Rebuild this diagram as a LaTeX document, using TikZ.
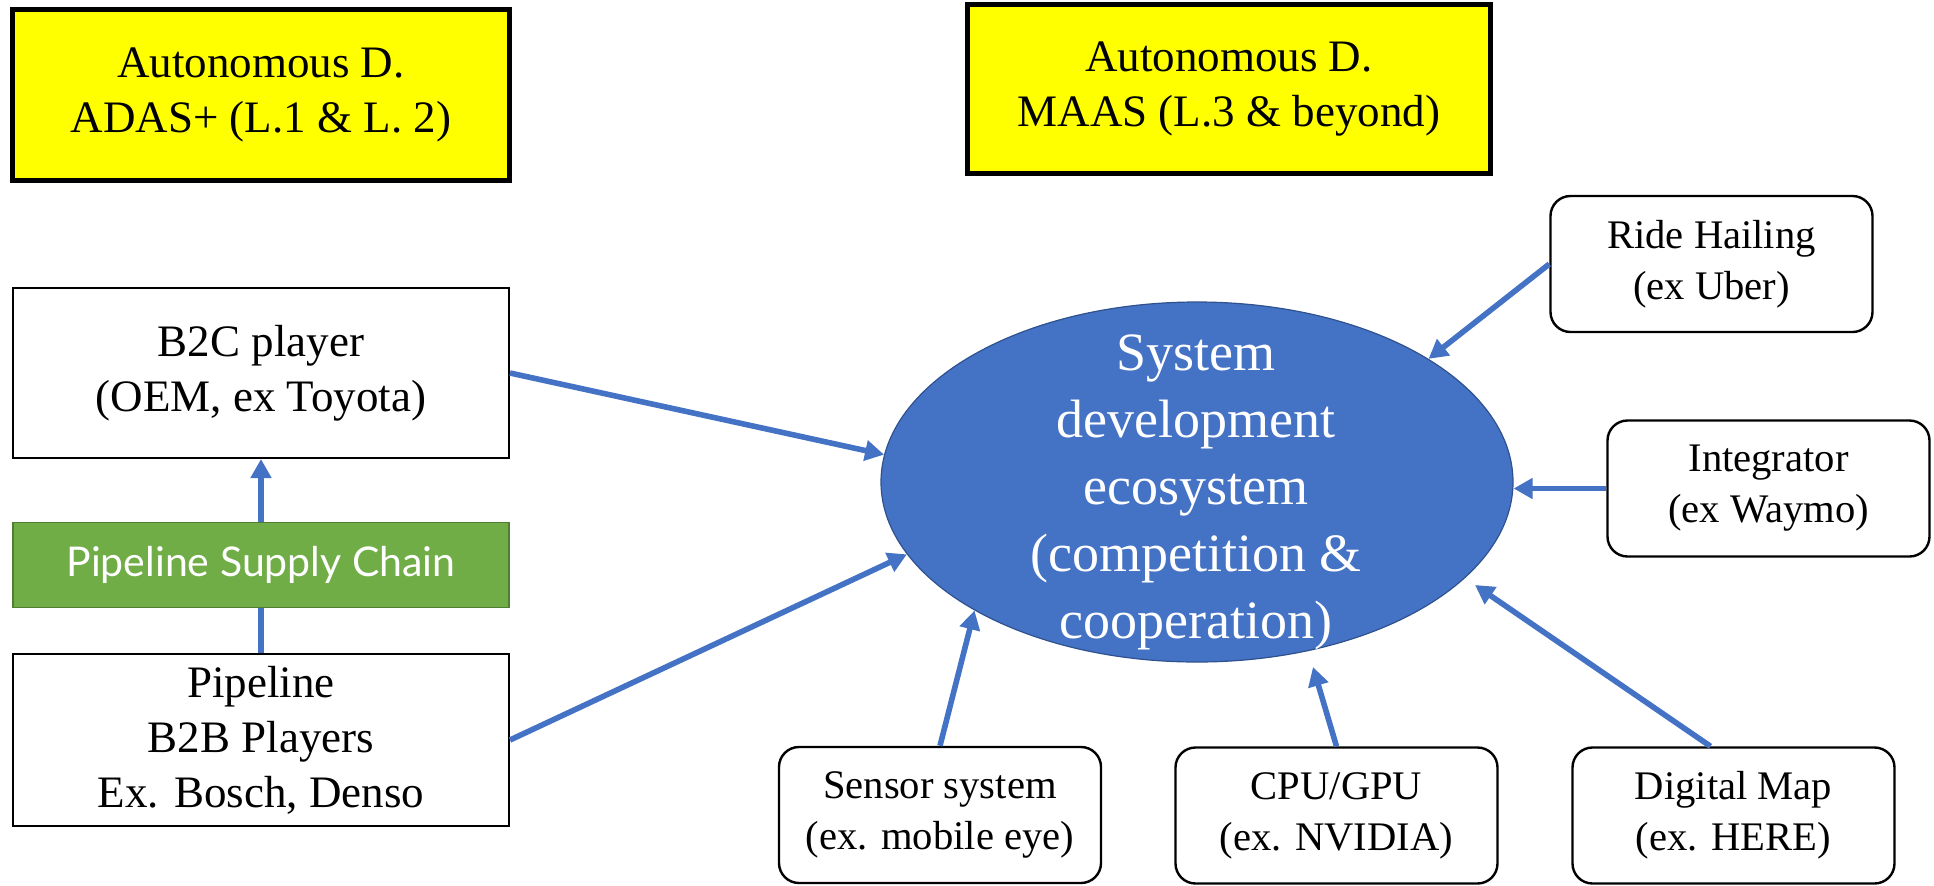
\documentclass[tikz,border=0pt]{standalone}
\usepackage{fontspec}
\setmainfont{Liberation Serif}
\newfontfamily\latofont{Lato}
\usepackage{tikz}
\usetikzlibrary{arrows.meta,shapes.geometric,positioning}
\definecolor{adyellow}{HTML}{FFFF00}
\definecolor{adblue}{HTML}{4472C4}
\definecolor{adblueline}{HTML}{2F528F}
\definecolor{adgreen}{HTML}{70AD47}
\definecolor{adgreenline}{HTML}{507E32}

\begin{document}
\begin{tikzpicture}[x=0.5pt,y=0.5pt,yscale=-1,xscale=1,
    headbox/.style={draw=black,line width=2.6pt,fill=adyellow,inner sep=0pt,align=center,
        font=\fontsize{22.5}{27.5}\selectfont},
    playerbox/.style={draw=black,line width=1pt,fill=white,minimum width=248pt,inner sep=0pt,align=center,
        font=\fontsize{22.5}{27.5}\selectfont},
    chainbox/.style={draw=adgreenline,line width=0.6pt,fill=adgreen,text=white,minimum width=248pt,
        minimum height=42.5pt,inner sep=0pt,font=\latofont\fontsize{20.5}{24}\selectfont},
    partnerbox/.style={draw=black,line width=1.2pt,rounded corners=10pt,fill=white,minimum width=161pt,
        minimum height=68pt,inner sep=0pt,align=center,font=\fontsize{20.3}{25.5}\selectfont},
    feed/.style={draw=adblue,line width=2.8pt,-{Triangle[length=9.5pt,width=10pt]}},
  ]
  \useasboundingbox (0,0) rectangle (1934,885);

  % Header boxes
  \node [headbox,minimum width=248.5pt,minimum height=85.5pt] (adas) at (261,95) {Autonomous D.\\ADAS+ (L.1 \& L. 2)};
  \node [headbox,minimum width=261.5pt,minimum height=84.5pt] (maas) at (1229,89) {Autonomous D.\\MAAS (L.3 \& beyond)};

  % Left column
  \node [playerbox,minimum height=85pt] (b2c) at (261,373) {B2C player\\(OEM, ex Toyota)};
  \node [chainbox] (chain) at (261,565) {Pipeline Supply Chain};
  \node [playerbox,minimum height=86pt] (pipe) at (261,740) {Pipeline\\B2B Players\\Ex. Bosch, Denso};

  % Ecosystem
  \node [ellipse,draw=adblueline,line width=0.6pt,fill=adblue,minimum width=316pt,minimum height=180pt,inner sep=0pt] (eco) at (1197,482) {};
  \node [text=white,align=center,inner sep=0pt,font=\fontsize{27}{33.5}\selectfont] (ecotext) at (1196,492) {System\\development\\ecosystem\\(competition \&\\cooperation)};

  % Partner boxes
  \node [partnerbox] (ride) at (1711.5,264) {Ride Hailing\\(ex Uber)};
  \node [partnerbox] (integ) at (1768.5,488.5) {Integrator\\(ex Waymo)};
  \node [partnerbox] (sensor) at (940,815) {Sensor system\\(ex. mobile eye)};
  \node [partnerbox] (cpu) at (1336.5,815.5) {CPU/GPU\\(ex. NVIDIA)};
  \node [partnerbox] (dmap) at (1733.5,815.5) {Digital Map\\(ex. HERE)};

  \coordinate (cputip) at (1313,667);
  \coordinate (dmaptip) at (1475,585);

  % Arrows
  \draw [draw=adblue,line width=2.8pt] (pipe.north) -- (chain.south);
  \draw [feed] (chain.north) -- (b2c.south);
  \draw [feed] (b2c.east) -- (eco.175.6);
  \draw [feed] (pipe.east) -- (eco.194.5);
  \draw [feed] (ride.west) -- (eco.28);
  \draw [feed] (integ.west) -- (integ.west -| eco.east);
  \draw [feed] (sensor.north) -- (eco.210);
  \draw [feed] (cpu.north) -- (cputip);
  \draw [feed] ([xshift=-11.5pt]dmap.north) -- (dmaptip);

\end{tikzpicture}
\end{document}
